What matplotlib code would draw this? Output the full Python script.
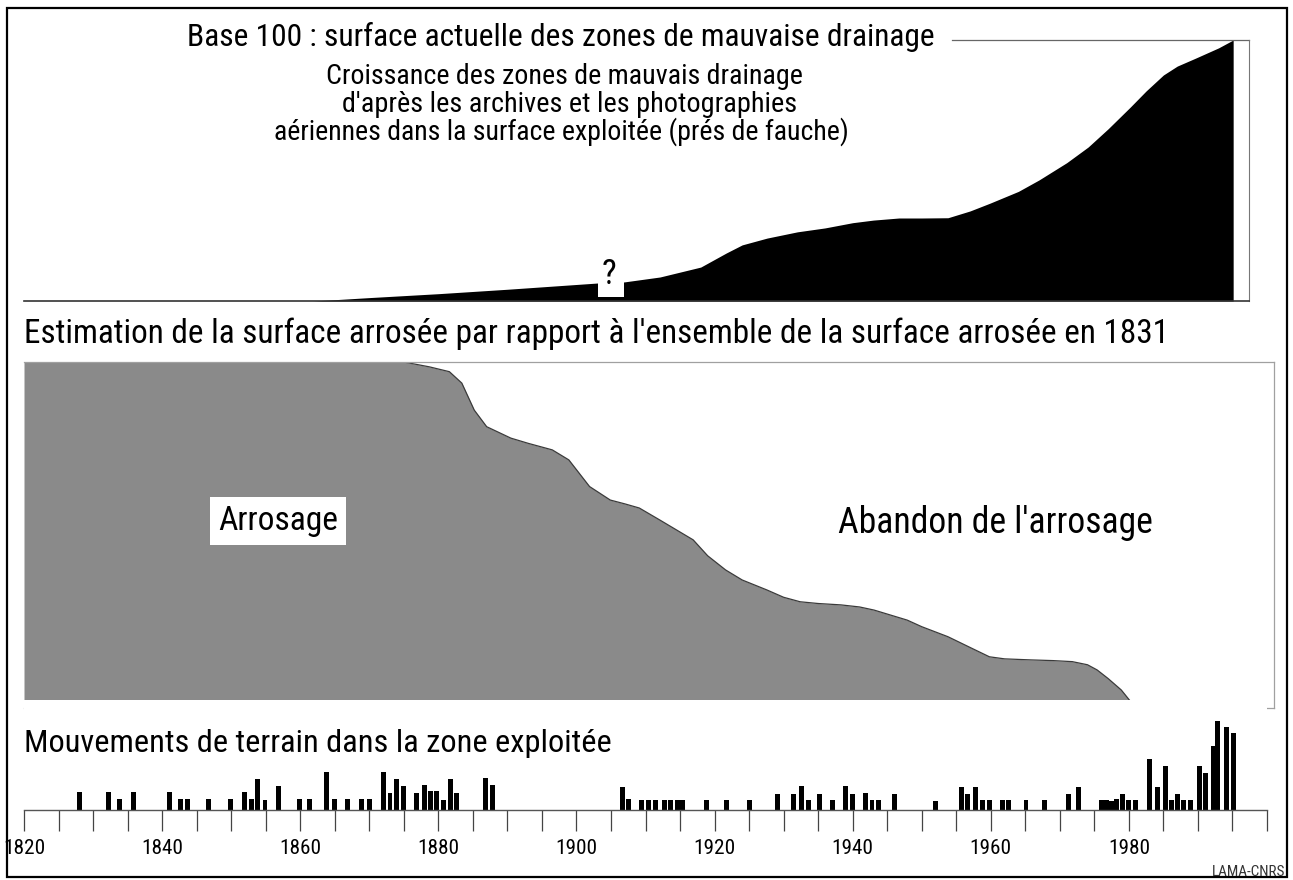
import matplotlib
matplotlib.use('Agg')
import matplotlib.pyplot as plt
from matplotlib.patches import Rectangle
from matplotlib import font_manager
from matplotlib.font_manager import FontProperties

W, H = 1293, 880

# ---------------- font choice (condensed sans if any is installed) ----------------
_entries = font_manager.fontManager.ttflist
_chosen = None
for nm in ['Liberation Sans Narrow', 'Roboto Condensed', 'Open Sans Condensed',
           'Noto Sans Condensed', 'DejaVu Sans Condensed', 'Arial Narrow',
           'Nimbus Sans Narrow']:
    for e in _entries:
        if e.name == nm and e.style == 'normal' and str(e.weight) in ('400', 'normal', 'regular'):
            _chosen = e.fname
            break
    if _chosen:
        break
if not _chosen:
    for e in _entries:
        if (str(e.stretch) in ('condensed', 'semi-condensed', 'extra-condensed')
                and e.style == 'normal' and str(e.weight) in ('400', 'normal', 'regular')
                and ('Sans' in e.name or 'Roboto' in e.name)):
            _chosen = e.fname
            break
if _chosen:
    BASE_FP = FontProperties(fname=_chosen)
else:
    BASE_FP = FontProperties(family=['Liberation Sans', 'DejaVu Sans'])
plt.rcParams['font.family'] = ['Liberation Sans', 'DejaVu Sans']


def fp(size):
    p = BASE_FP.copy()
    p.set_size(size)
    return p


# ---------------- data ----------------
# Croissance des zones de mauvais drainage (base 100 = surface actuelle)
drain_years = [1861.9, 1870.0, 1880.0, 1890.0, 1903.1, 1906.9, 1912.1, 1918.0,
               1921.7, 1924.0, 1927.6, 1932.0, 1936.0, 1940.0, 1943.0, 1946.7,
               1950.0, 1953.8, 1957.0, 1959.9, 1964.0, 1967.0, 1971.0, 1974.1,
               1977.0, 1980.2, 1982.5, 1985.0, 1987.0, 1989.7, 1993.0, 1995.1]
drain_values = [0, 1.3, 2.8, 4.5, 6.9, 7.3, 9.2, 13.0,
                18.4, 21.5, 24.1, 26.5, 28.0, 30.0, 31.0, 31.8,
                31.8, 31.9, 34.5, 37.5, 42.0, 46.4, 53.0, 59.0,
                66.0, 74.3, 80.5, 86.6, 90.0, 93.1, 97.0, 100]

# Surface arrosée (100 = surface arrosée en 1831)
irrig_years = [1820.0, 1875.0, 1878.7, 1881.6, 1883.4, 1885.2, 1887.0, 1890.5,
               1893.0, 1896.5, 1898.9, 1901.9, 1904.9, 1907.0, 1909.1, 1912.1,
               1916.9, 1919.0, 1921.6, 1924.0, 1927.6, 1930.0, 1932.4, 1935.0,
               1938.3, 1941.0, 1943.1, 1947.9, 1950.0, 1953.8, 1957.0, 1959.8,
               1962.0, 1965.8, 1969.0, 1971.8, 1974.0, 1975.4, 1977.0, 1978.9,
               1981.0]
irrig_values = [100, 100, 98.6, 97.2, 93.9, 86.1, 81.3, 78.0,
                76.5, 74.6, 71.7, 64.0, 60.1, 59.0, 57.8, 54.3,
                48.6, 44.0, 39.9, 37.0, 34.1, 32.0, 30.7, 30.2,
                29.8, 29.2, 28.3, 25.4, 23.5, 20.6, 17.5, 14.8,
                14.2, 13.9, 13.7, 13.4, 12.5, 11.0, 8.5, 5.2,
                0]

# Mouvements de terrain (hauteur relative des barres)
move_years = [1828.0, 1832.2, 1833.8, 1835.8, 1841.0, 1842.7, 1843.7, 1846.7,
              1849.9, 1852.0, 1852.9, 1853.8, 1854.9, 1856.8, 1859.9, 1861.4,
              1863.8, 1864.9, 1866.8, 1868.9, 1870.0, 1872.0, 1873.0, 1874.0,
              1874.9, 1876.9, 1878.0, 1878.9, 1879.8, 1880.7, 1881.7, 1882.7,
              1886.8, 1887.9, 1906.6, 1907.5, 1909.4, 1910.5, 1911.5, 1912.7,
              1913.6, 1914.6, 1915.3, 1918.9, 1921.8, 1925.0, 1929.1, 1931.4,
              1932.6, 1933.6, 1935.2, 1937.1, 1939.0, 1940.0, 1941.9, 1942.8,
              1943.8, 1946.0, 1952.0, 1955.7, 1956.6, 1957.8, 1958.8, 1959.8,
              1961.7, 1962.6, 1965.1, 1967.8, 1971.2, 1972.7, 1976.0, 1976.8,
              1977.5, 1978.2, 1979.1, 1980.0, 1981.0, 1983.0, 1984.1, 1985.3,
              1986.2, 1987.1, 1987.9, 1988.9, 1990.2, 1991.1, 1992.2, 1992.9,
              1994.1, 1995.2]
move_values = [18, 18, 11, 18, 18, 11, 11, 11,
               11, 18, 11, 31, 10, 24, 11, 11,
               38, 11, 11, 11, 11, 38, 17, 31,
               24, 17, 25, 19, 19, 10, 31, 17,
               32, 25, 23, 11, 10, 10, 10, 10,
               10, 10, 10, 10, 10, 10, 16, 16,
               24, 10, 16, 10, 24, 16, 17, 10,
               10, 16, 9, 23, 16, 23, 10, 10,
               10, 10, 10, 10, 16, 23, 10, 10,
               9, 11, 16, 10, 10, 51, 23, 44,
               10, 16, 10, 10, 44, 37, 64, 89,
               83, 77]

tick_years = list(range(1820, 2001, 5))
label_years = list(range(1820, 1981, 20))

title_top = "Base 100 : surface actuelle des zones de mauvaise drainage"
subtitle_lines = ["Croissance des zones de mauvais drainage",
                  "d'après les archives et les photographies",
                  "aériennes dans la surface exploitée (prés de fauche)"]
title_mid = ("Estimation de la surface arrosée par rapport à l'ensemble "
             "de la surface arrosée en 1831")
title_bot = "Mouvements de terrain dans la zone exploitée"

# ---------------- layout helpers ----------------
fig = plt.figure(figsize=(W / 100, H / 100), dpi=100)
PX_PER_YEAR = 1243 / 180.0


def year_at(px):
    return 1820 + (px - 24) / PX_PER_YEAR


def fx(px):
    return px / W


def fy(py):
    return 1 - py / H


def ax_px(x0, y0, x1, y1):
    return fig.add_axes([x0 / W, 1 - y1 / H, (x1 - x0) / W, (y1 - y0) / H])


fitted = []  # (text artist, target width px)

# outer frame
fig.patches.append(Rectangle((fx(7), fy(877)), fx(1287) - fx(7), fy(8) - fy(877),
                             transform=fig.transFigure, fill=False,
                             edgecolor='black', linewidth=1.6))

# ---------------- top panel ----------------
TOP_Y0, TOP_Y1 = 40, 301
ax1 = ax_px(24, TOP_Y0, 1249, TOP_Y1)
ax1.set_xlim(1820, year_at(1249))
ax1.set_ylim(0, 100)
ax1.fill_between(drain_years, drain_values, 0, color='black', linewidth=0)
for s in ['left', 'top']:
    ax1.spines[s].set_visible(False)
ax1.spines['right'].set_color('#777777')
ax1.spines['right'].set_linewidth(0.8)
ax1.spines['bottom'].set_color('#333333')
ax1.spines['bottom'].set_linewidth(1.2)
ax1.plot([(952 - 24) / 1225, 1], [1, 1], transform=ax1.transAxes,
         color='#666666', lw=0.9, clip_on=False)
ax1.set_xticks([])
ax1.set_yticks([])


def v_top(py):
    return (TOP_Y1 - py) / (TOP_Y1 - TOP_Y0) * 100


# "?" marker
qx0, qx1 = year_at(598), year_at(624)
ax1.add_patch(Rectangle((qx0, v_top(297)), qx1 - qx0, v_top(257) - v_top(297),
                        facecolor='white', edgecolor='none', zorder=3))
ax1.text(year_at(609), v_top(274), '?', ha='center', va='center',
         fontproperties=fp(25), zorder=4)

t = fig.text(fx(187), fy(46), title_top, ha='left', va='baseline',
             fontproperties=fp(19))
fitted.append((t, 748))
for line, cx, base, wid in zip(subtitle_lines, [564.5, 570, 561.5],
                               [84, 112, 140], [475, 456, 579]):
    t = fig.text(fx(cx), fy(base), line, ha='center', va='baseline',
                 fontproperties=fp(17))
    fitted.append((t, wid))

# ---------------- middle panel ----------------
MID_Y0, MID_Y1 = 362, 708
ax2 = ax_px(24, MID_Y0, 1274, MID_Y1)
ax2.set_xlim(1820, year_at(1274))
ax2.set_ylim(0, 100)
ax2.fill_between(irrig_years, irrig_values, 0, color='#8a8a8a', linewidth=0)
ax2.plot(irrig_years, irrig_values, color='#3a3a3a', lw=0.9)
ax2.spines['left'].set_visible(False)
for s in ['top', 'right', 'bottom']:
    ax2.spines[s].set_color('#a0a0a0')
    ax2.spines[s].set_linewidth(0.9)
ax2.set_xticks([])
ax2.set_yticks([])


def v_mid(py):
    return (MID_Y1 - py) / (MID_Y1 - MID_Y0) * 100


t = ax2.text(year_at(278), v_mid(530), 'Arrosage', ha='center',
             va='baseline', fontproperties=fp(19), zorder=4,
             bbox=dict(boxstyle='square,pad=0.25', facecolor='white',
                       edgecolor='none'))
fitted.append((t, 120))
t = ax2.text(year_at(995), v_mid(533), "Abandon de l'arrosage", ha='center',
             va='baseline', fontproperties=fp(19))
fitted.append((t, 316))

t = fig.text(fx(24), fy(343), title_mid, ha='left', va='baseline',
             fontproperties=fp(19))
fitted.append((t, 1143))

# ---------------- bottom panel ----------------
ax3 = ax_px(24, 700, 1267, 810)
ax3.set_xlim(1820, 2000)
ax3.set_ylim(0, 110)
ax3.bar(move_years, move_values, width=0.72, color='black', linewidth=0)
for s in ['left', 'top', 'right']:
    ax3.spines[s].set_visible(False)
ax3.spines['bottom'].set_color('#555555')
ax3.spines['bottom'].set_linewidth(1.0)
ax3.set_yticks([])
ax3.set_xticks(tick_years)
ax3.set_xticklabels([str(y) if y in label_years else '' for y in tick_years])
ax3.tick_params(axis='x', direction='out', length=15, width=0.9,
                color='#444444', pad=6)

t = fig.text(fx(24), fy(752), title_bot, ha='left', va='baseline',
             fontproperties=fp(19))
fitted.append((t, 588))
t = fig.text(fx(1285), fy(876), 'LAMA-CNRS', ha='right', va='baseline',
             fontproperties=fp(9), color='#333333')
fitted.append((t, 74))

# ---------------- fit text widths to the reference ----------------
fig.canvas.draw()
renderer = fig.canvas.get_renderer()
for _ in range(2):
    for art, target in fitted:
        bb = art.get_window_extent(renderer)
        if bb.width > 0:
            art.set_fontsize(art.get_fontsize() * target / bb.width)
    fig.canvas.draw()

# tick labels: "1840" is about 40-42 px wide
probe = fig.text(0, 0, '1840', fontproperties=fp(15))
fig.canvas.draw()
w = probe.get_window_extent(renderer).width
tick_size = 15 * 42.0 / w
probe.remove()
for lbl in ax3.get_xticklabels():
    lbl.set_fontproperties(fp(tick_size))

fig.savefig('out.png', dpi=100)
